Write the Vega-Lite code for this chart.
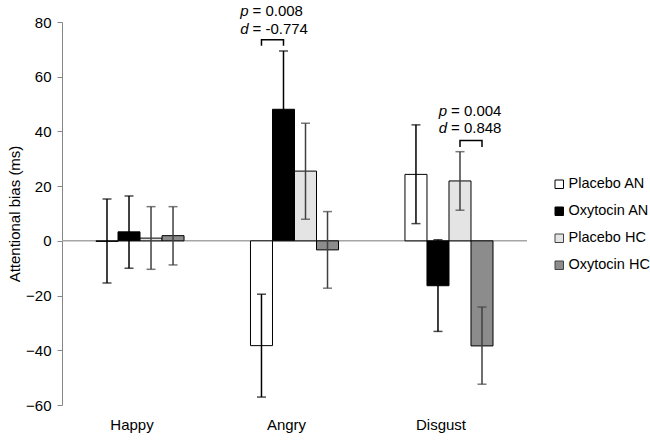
{
  "$schema": "https://vega.github.io/schema/vega-lite/v6.json",
  "width": 465,
  "height": 383,
  "autosize": {"type": "none"},
  "padding": {"left": 62, "top": 22, "right": 123, "bottom": 35},
  "background": "white",
  "config": {
    "view": {"stroke": null},
    "font": "Liberation Sans",
    "axis": {
      "labelFont": "Liberation Sans",
      "labelFontSize": 15,
      "labelColor": "#000000",
      "titleFont": "Liberation Sans",
      "titleFontSize": 15,
      "titleFontWeight": "normal",
      "titleColor": "#000000",
      "domainColor": "#868686",
      "tickColor": "#868686",
      "grid": false
    },
    "axisX": {"labelOffset": -8, "domain": false, "ticks": false, "labelPadding": 12, "labelAngle": 0},
    "legend": {
      "labelFont": "Liberation Sans",
      "labelFontSize": 14.5,
      "labelColor": "#000000",
      "labelLimit": 200
    }
  },
  "datasets": {
    "bars": [
      {"cat": "Happy", "series": "Placebo AN", "mean": -0.2, "lo": -15.4, "hi": 15.3},
      {"cat": "Happy", "series": "Oxytocin AN", "mean": 3.3, "lo": -10.0, "hi": 16.4},
      {"cat": "Happy", "series": "Placebo HC", "mean": 1.0, "lo": -10.4, "hi": 12.5},
      {"cat": "Happy", "series": "Oxytocin HC", "mean": 1.9, "lo": -8.8, "hi": 12.5},
      {"cat": "Angry", "series": "Placebo AN", "mean": -38.3, "lo": -57.1, "hi": -19.5},
      {"cat": "Angry", "series": "Oxytocin AN", "mean": 48.1, "lo": 26.8, "hi": 69.4},
      {"cat": "Angry", "series": "Placebo HC", "mean": 25.5, "lo": 7.9, "hi": 43.0},
      {"cat": "Angry", "series": "Oxytocin HC", "mean": -3.3, "lo": -17.3, "hi": 10.7},
      {"cat": "Disgust", "series": "Placebo AN", "mean": 24.3, "lo": 6.3, "hi": 42.4},
      {"cat": "Disgust", "series": "Oxytocin AN", "mean": -16.4, "lo": -33.1, "hi": 0.4},
      {"cat": "Disgust", "series": "Placebo HC", "mean": 21.9, "lo": 11.2, "hi": 32.6},
      {"cat": "Disgust", "series": "Oxytocin HC", "mean": -38.4, "lo": -52.4, "hi": -24.2}
    ],
    "brackets": [
      {"id": "a", "k": 1, "cat": "Angry", "series": "Placebo AN", "y": 71.3},
      {"id": "a", "k": 2, "cat": "Angry", "series": "Placebo AN", "y": 73.5},
      {"id": "a", "k": 3, "cat": "Angry", "series": "Oxytocin AN", "y": 73.5},
      {"id": "a", "k": 4, "cat": "Angry", "series": "Oxytocin AN", "y": 71.3},
      {"id": "b", "k": 1, "cat": "Disgust", "series": "Placebo HC", "y": 34.3},
      {"id": "b", "k": 2, "cat": "Disgust", "series": "Placebo HC", "y": 36.7},
      {"id": "b", "k": 3, "cat": "Disgust", "series": "Oxytocin HC", "y": 36.7},
      {"id": "b", "k": 4, "cat": "Disgust", "series": "Oxytocin HC", "y": 34.3}
    ],
    "notes": [
      {"cat": "Angry", "series": "Placebo AN", "y": 84.1, "sym": "p", "val": "= 0.008"},
      {"cat": "Angry", "series": "Placebo AN", "y": 77.5, "sym": "d", "val": "= -0.774"},
      {"cat": "Disgust", "series": "Placebo HC", "y": 47.5, "sym": "p", "val": "= 0.004"},
      {"cat": "Disgust", "series": "Placebo HC", "y": 41.3, "sym": "d", "val": "= 0.848"}
    ]
  },
  "layer": [
    {
      "data": {"values": [{}]},
      "mark": {"type": "rule", "color": "#a6a6a6", "strokeWidth": 1.5},
      "encoding": {
        "y": {"datum": 0, "type": "quantitative", "title": "Attentional bias (ms)"}
      }
    },
    {
      "data": {"name": "bars"},
      "mark": {"type": "bar", "stroke": "#000000", "strokeWidth": 1},
      "encoding": {
        "x": {
          "field": "cat", "type": "nominal", "sort": ["Happy", "Angry", "Disgust"],
          "scale": {"paddingInner": 0.43, "paddingOuter": 0.22},
          "title": null
        },
        "xOffset": {
          "field": "series", "type": "nominal",
          "sort": ["Placebo AN", "Oxytocin AN", "Placebo HC", "Oxytocin HC"],
          "scale": {"paddingInner": 0, "paddingOuter": 0}
        },
        "y": {
          "field": "mean", "type": "quantitative",
          "scale": {"domain": [-60, 80], "nice": false},
          "axis": {"values": [-60, -40, -20, 0, 20, 40, 60, 80], "tickSize": 5, "labelPadding": 6, "titlePadding": 3},
          "title": "Attentional bias (ms)"
        },
        "fill": {
          "field": "series", "type": "nominal",
          "scale": {
            "domain": ["Placebo AN", "Oxytocin AN", "Placebo HC", "Oxytocin HC"],
            "range": ["#ffffff", "#000000", "#e4e4e4", "#8c8c8c"]
          },
          "legend": {
            "orient": "none", "legendX": 490, "legendY": 155, "title": null,
            "symbolType": "square", "symbolSize": 72, "symbolStrokeColor": "#000000",
            "symbolStrokeWidth": 1, "labelOffset": 2, "rowPadding": 12
          }
        }
      }
    },
    {
      "data": {"name": "bars"},
      "mark": {"type": "rule", "strokeWidth": 1.5},
      "encoding": {
        "x": {"field": "cat", "type": "nominal", "sort": ["Happy", "Angry", "Disgust"], "title": null},
        "xOffset": {"field": "series", "type": "nominal", "sort": ["Placebo AN", "Oxytocin AN", "Placebo HC", "Oxytocin HC"]},
        "y": {"field": "lo", "type": "quantitative", "title": "Attentional bias (ms)"},
        "y2": {"field": "hi"},
        "stroke": {
          "field": "series", "type": "nominal", "legend": null,
          "scale": {"domain": ["Placebo AN", "Oxytocin AN", "Placebo HC", "Oxytocin HC"], "range": ["#000000", "#000000", "#404040", "#404040"]}
        }
      }
    },
    {
      "data": {"name": "bars"},
      "mark": {"type": "tick", "thickness": 1.5, "size": 9},
      "encoding": {
        "x": {"field": "cat", "type": "nominal", "sort": ["Happy", "Angry", "Disgust"], "title": null},
        "xOffset": {"field": "series", "type": "nominal", "sort": ["Placebo AN", "Oxytocin AN", "Placebo HC", "Oxytocin HC"]},
        "y": {"field": "hi", "type": "quantitative", "title": "Attentional bias (ms)"},
        "color": {
          "field": "series", "type": "nominal", "legend": null,
          "scale": {"domain": ["Placebo AN", "Oxytocin AN", "Placebo HC", "Oxytocin HC"], "range": ["#000000", "#000000", "#404040", "#404040"]}
        }
      }
    },
    {
      "data": {"name": "bars"},
      "mark": {"type": "tick", "thickness": 1.5, "size": 9},
      "encoding": {
        "x": {"field": "cat", "type": "nominal", "sort": ["Happy", "Angry", "Disgust"], "title": null},
        "xOffset": {"field": "series", "type": "nominal", "sort": ["Placebo AN", "Oxytocin AN", "Placebo HC", "Oxytocin HC"]},
        "y": {"field": "lo", "type": "quantitative", "title": "Attentional bias (ms)"},
        "color": {
          "field": "series", "type": "nominal", "legend": null,
          "scale": {"domain": ["Placebo AN", "Oxytocin AN", "Placebo HC", "Oxytocin HC"], "range": ["#000000", "#000000", "#404040", "#404040"]}
        }
      }
    },
    {
      "data": {"name": "brackets"},
      "mark": {"type": "line", "color": "#000000", "strokeWidth": 1.5},
      "encoding": {
        "x": {"field": "cat", "type": "nominal", "sort": ["Happy", "Angry", "Disgust"], "title": null},
        "xOffset": {"field": "series", "type": "nominal", "sort": ["Placebo AN", "Oxytocin AN", "Placebo HC", "Oxytocin HC"]},
        "y": {"field": "y", "type": "quantitative", "title": "Attentional bias (ms)"},
        "detail": {"field": "id"},
        "order": {"field": "k", "type": "quantitative"}
      }
    },
    {
      "data": {"name": "notes"},
      "mark": {"type": "text", "fontSize": 15, "fontStyle": "italic", "align": "right", "baseline": "middle", "dx": -13, "color": "#000000"},
      "encoding": {
        "x": {"field": "cat", "type": "nominal", "sort": ["Happy", "Angry", "Disgust"], "title": null},
        "xOffset": {"field": "series", "type": "nominal", "sort": ["Placebo AN", "Oxytocin AN", "Placebo HC", "Oxytocin HC"]},
        "y": {"field": "y", "type": "quantitative", "title": "Attentional bias (ms)"},
        "text": {"field": "sym"}
      }
    },
    {
      "data": {"name": "notes"},
      "mark": {"type": "text", "fontSize": 15, "align": "left", "baseline": "middle", "dx": -9, "color": "#000000"},
      "encoding": {
        "x": {"field": "cat", "type": "nominal", "sort": ["Happy", "Angry", "Disgust"], "title": null},
        "xOffset": {"field": "series", "type": "nominal", "sort": ["Placebo AN", "Oxytocin AN", "Placebo HC", "Oxytocin HC"]},
        "y": {"field": "y", "type": "quantitative", "title": "Attentional bias (ms)"},
        "text": {"field": "val"}
      }
    }
  ]
}
